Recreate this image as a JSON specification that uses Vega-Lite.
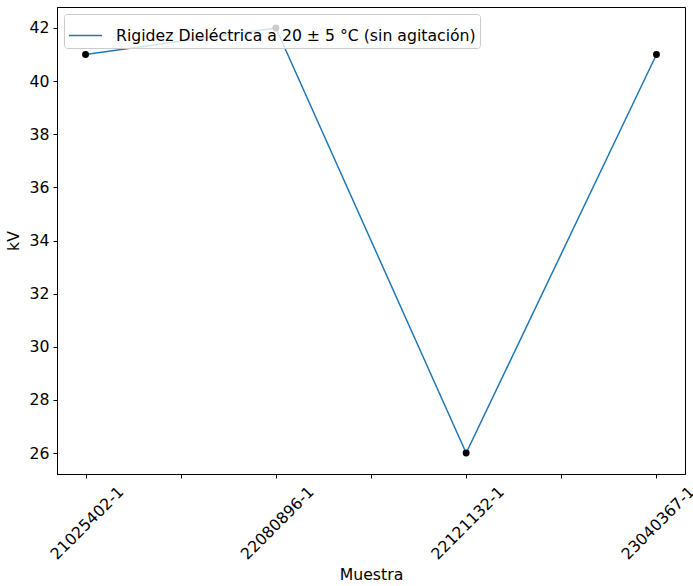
{
  "$schema": "https://vega.github.io/schema/vega-lite/v6.json",
  "width": 628,
  "height": 467,
  "autosize": {"type": "none"},
  "padding": {"left": 57, "top": 7, "right": 8, "bottom": 112},
  "background": "white",
  "config": {
    "font": "DejaVu Sans",
    "view": {"stroke": "#000", "strokeWidth": 1},
    "axis": {
      "domainColor": "#000",
      "tickColor": "#000",
      "tickSize": 4,
      "grid": false,
      "labelFont": "DejaVu Sans",
      "labelFontSize": 15.7,
      "labelColor": "#000",
      "titleFont": "DejaVu Sans",
      "titleFontSize": 15.7,
      "titleFontWeight": "normal",
      "titleColor": "#000"
    }
  },
  "data": {
    "values": [
      {"idx": 0, "muestra": "21025402-1", "kv": 41, "serie": "Rigidez Dieléctrica a 20 ± 5 °C (sin agitación)"},
      {"idx": 1, "muestra": "22080896-1", "kv": 42, "serie": "Rigidez Dieléctrica a 20 ± 5 °C (sin agitación)"},
      {"idx": 2, "muestra": "22121132-1", "kv": 26, "serie": "Rigidez Dieléctrica a 20 ± 5 °C (sin agitación)"},
      {"idx": 3, "muestra": "23040367-1", "kv": 41, "serie": "Rigidez Dieléctrica a 20 ± 5 °C (sin agitación)"}
    ]
  },
  "encoding": {
    "x": {
      "field": "idx",
      "type": "quantitative",
      "scale": {"domain": [-0.15, 3.15], "nice": false, "zero": false},
      "axis": {
        "title": "Muestra",
        "values": [0, 0.5, 1, 1.5, 2, 2.5, 3],
        "labelExpr": "datum.value % 1 == 0 ? ['21025402-1','22080896-1','22121132-1','23040367-1'][datum.value] : ''",
        "labelAngle": -45,
        "labelAlign": "right",
        "labelBaseline": "middle",
        "labelOffset": 35,
        "labelPadding": 11,
        "labelOverlap": false,
        "labelFlush": false,
        "titlePadding": 6
      }
    },
    "y": {
      "field": "kv",
      "type": "quantitative",
      "scale": {"domain": [25.21, 42.79], "nice": false, "zero": false},
      "axis": {
        "title": "kV",
        "values": [26, 28, 30, 32, 34, 36, 38, 40, 42],
        "labelPadding": 4,
        "titlePadding": 8
      }
    }
  },
  "layer": [
    {
      "mark": {"type": "line", "strokeWidth": 1.5},
      "encoding": {
        "color": {
          "field": "serie",
          "type": "nominal",
          "scale": {"range": ["#1f77b4"]},
          "legend": {
            "title": null,
            "orient": "none",
            "legendX": 7,
            "legendY": 7,
            "symbolType": "stroke",
            "symbolSize": 1100,
            "symbolStrokeWidth": 1.5,
            "labelFont": "DejaVu Sans",
            "labelFontSize": 15.7,
            "labelColor": "#000",
            "labelLimit": 500,
            "labelOffset": 13,
            "fillColor": "rgba(255,255,255,0.8)",
            "strokeColor": "#cccccc",
            "cornerRadius": 3,
            "padding": 4
          }
        }
      }
    },
    {
      "mark": {"type": "point", "filled": true, "color": "#000", "size": 48, "opacity": 1}
    }
  ]
}
